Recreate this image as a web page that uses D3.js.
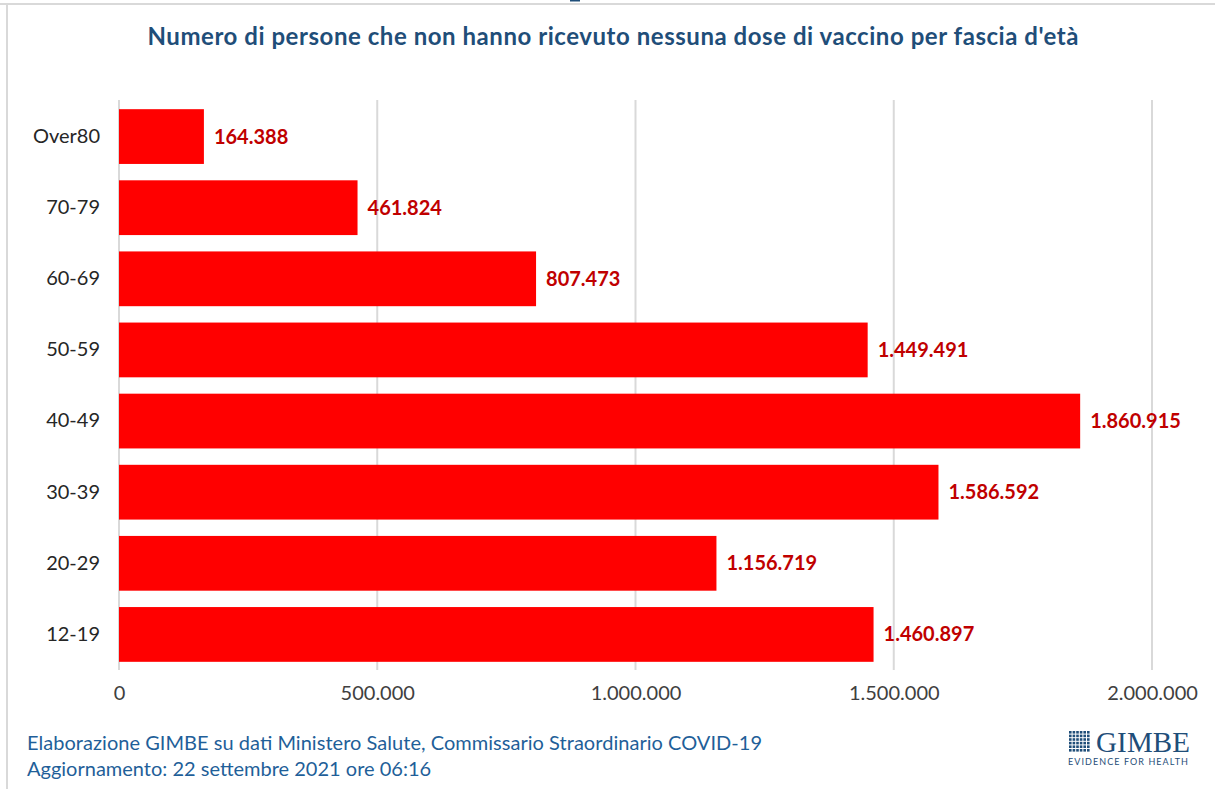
<!DOCTYPE html>
<html>
<head>
<meta charset="utf-8">
<script src="https://cdn.jsdelivr.net/npm/d3@7"></script>
<style>
  html, body { margin: 0; padding: 0; background: #fff; }
  svg { display: block; font-family: Lato, "Open Sans", sans-serif; }
</style>
</head>
<body>
<div id="chart"></div>
<script>
// ===== DATA =====
const categories = ['Over80', '70-79', '60-69', '50-59', '40-49', '30-39', '20-29', '12-19'];
const unvaccinated = [164388, 461824, 807473, 1449491, 1860915, 1586592, 1156719, 1460897];
const xTicks = [0, 500000, 1000000, 1500000, 2000000];

const W = 1215, H = 789;
const margin = { left: 119, right: 63, top: 101, bottom: 118 };

// italian thousands separator
const fmt = d3.formatLocale({ decimal: ',', thousands: '.', grouping: [3], currency: ['€', ''] }).format(',d');

const svg = d3.select('#chart')
  .append('svg')
  .attr('width', W)
  .attr('height', H);

// frame lines (left/top of the slide)
svg.append('rect').attr('x', 0).attr('y', 3).attr('width', W).attr('height', 2).attr('fill', '#d9d9d9');
svg.append('rect').attr('x', 6).attr('y', 3).attr('width', 2).attr('height', H).attr('fill', '#d9d9d9');
svg.append('rect').attr('x', 570).attr('y', 0).attr('width', 10).attr('height', 1.5).attr('fill', '#1f4e79');

// title
svg.append('text')
  .attr('x', 613)
  .attr('y', 45)
  .attr('text-anchor', 'middle')
  .attr('fill', '#1f4e79')
  .attr('font-weight', 'bold')
  .attr('font-size', 24)
  .attr('textLength', 931)
  .text("Numero di persone che non hanno ricevuto nessuna dose di vaccino per fascia d'età");

const x = d3.scaleLinear()
  .domain([0, 2000000])
  .range([margin.left, margin.left + 1033]);

const y = d3.scaleBand()
  .domain(categories)
  .range([margin.top, margin.top + 569])
  .paddingInner(0.23)
  .paddingOuter(0.115);

// gridlines
svg.append('g')
  .selectAll('line')
  .data(xTicks)
  .join('line')
  .attr('x1', d => x(d))
  .attr('x2', d => x(d))
  .attr('y1', 100)
  .attr('y2', 670)
  .attr('stroke', '#d9d9d9')
  .attr('stroke-width', 2);

// x axis labels
const xAxis = d3.axisBottom(x).tickValues(xTicks).tickFormat(d => fmt(d)).tickSize(0).tickPadding(0);
const gx = svg.append('g')
  .attr('transform', 'translate(0,686)')
  .call(xAxis);
gx.select('.domain').remove();
gx.selectAll('text')
  .attr('font-family', 'Lato, "Open Sans", sans-serif')
  .attr('font-size', 20)
  .attr('fill', '#404040');

// y axis labels
const yAxis = d3.axisLeft(y).tickSize(0).tickPadding(19);
const gy = svg.append('g')
  .attr('transform', `translate(${margin.left},0)`)
  .call(yAxis);
gy.select('.domain').remove();
gy.selectAll('text')
  .attr('font-family', 'Lato, "Open Sans", sans-serif')
  .attr('font-size', 20)
  .attr('fill', '#262626');

// bars
svg.append('g')
  .selectAll('rect')
  .data(categories)
  .join('rect')
  .attr('x', x(0))
  .attr('y', d => y(d))
  .attr('width', (d, i) => x(unvaccinated[i]) - x(0))
  .attr('height', y.bandwidth())
  .attr('fill', '#ff0000');

// value labels
svg.append('g')
  .selectAll('text')
  .data(categories)
  .join('text')
  .attr('x', (d, i) => x(unvaccinated[i]) + 10)
  .attr('y', d => y(d) + y.bandwidth() / 2)
  .attr('dy', '0.35em')
  .attr('fill', '#c00000')
  .attr('font-weight', 'bold')
  .attr('font-size', 20)
  .text((d, i) => fmt(unvaccinated[i]));

// footer
const footer = svg.append('g').attr('fill', '#1f5f99').attr('font-size', 20);
footer.append('text').attr('x', 27).attr('y', 750)
  .attr('textLength', 735)
  .text('Elaborazione GIMBE su dati Ministero Salute, Commissario Straordinario COVID-19');
footer.append('text').attr('x', 27).attr('y', 776)
  .text('Aggiornamento: 22 settembre 2021 ore 06:16');

// GIMBE logo
const logo = svg.append('g').attr('fill', '#1f4e79');
const dots = d3.range(36);
logo.selectAll('rect.dot')
  .data(dots)
  .join('rect')
  .attr('class', 'dot')
  .attr('x', d => 1069 + (d % 6) * 3.6)
  .attr('y', d => 731 + Math.floor(d / 6) * 3.6)
  .attr('width', 2.6)
  .attr('height', 2.6);
logo.append('text')
  .attr('x', 1096).attr('y', 752)
  .attr('font-family', '"Liberation Serif", "DejaVu Serif", serif')
  .attr('font-size', 29)
  .attr('textLength', 94)
  .text('GIMBE');
logo.append('text')
  .attr('x', 1068).attr('y', 765)
  .attr('font-size', 9)
  .attr('letter-spacing', 1.1)
  .attr('textLength', 121)
  .text('EVIDENCE FOR HEALTH');
</script>
</body>
</html>
